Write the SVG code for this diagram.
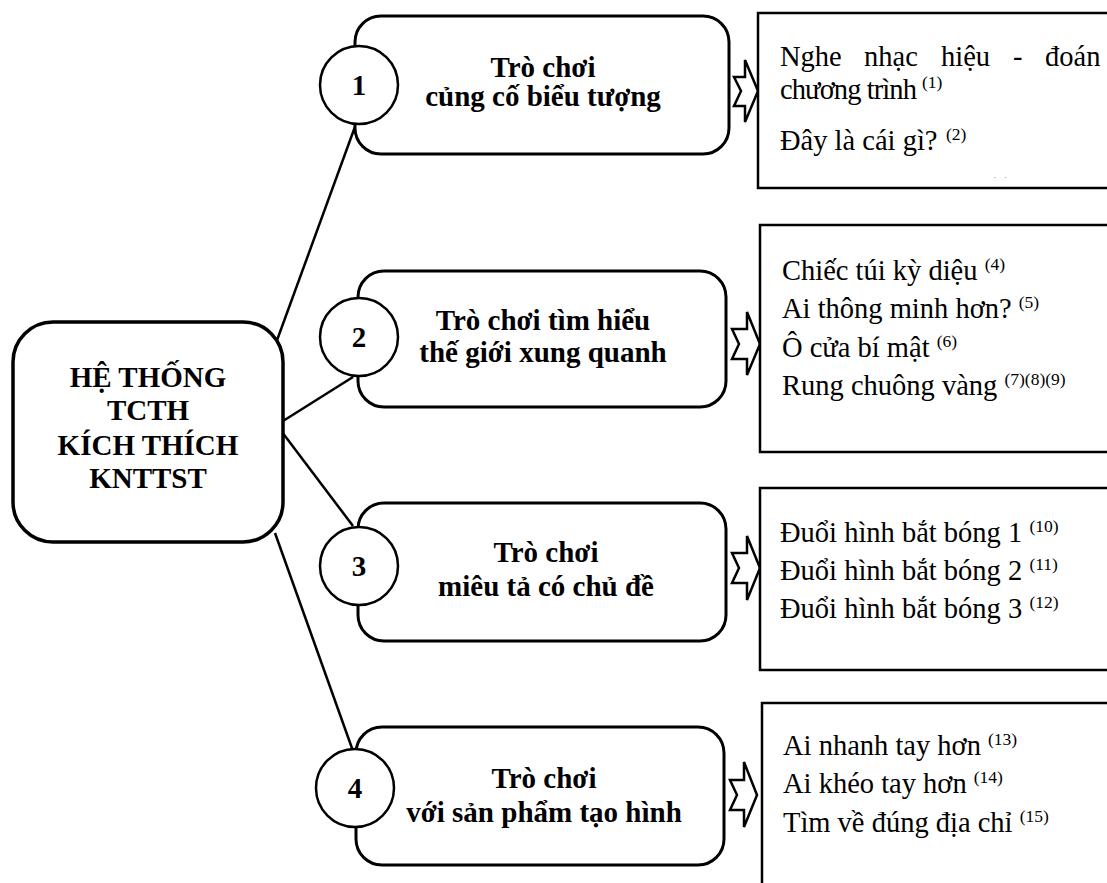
<svg xmlns="http://www.w3.org/2000/svg" width="1107" height="883" viewBox="0 0 1107 883">
<style>
  .rbox{fill:#fff;stroke:#000;stroke-width:3}
  .circ{fill:#fff;stroke:#000;stroke-width:2.5}
  .lbox{fill:#fff;stroke:#000;stroke-width:2.5}
  .arr{fill:#fff;stroke:#000;stroke-width:2.5;stroke-linejoin:miter}
  .conn{stroke:#000;stroke-width:2.5;fill:none}
  .t{font-family:"Liberation Serif","DejaVu Serif",serif;fill:#000}
  .b{font-weight:bold;font-size:29px;text-anchor:middle}
  .li{font-size:28.5px}
  .sup{font-size:17.5px}
</style>
<defs>
  <clipPath id="clip3"><rect x="960" y="170" width="80" height="8"/></clipPath>
</defs>
<rect width="1107" height="883" fill="#fff"/>

<g id="connectors">
  <line class="conn" x1="276" y1="343" x2="356" y2="124"/>
  <line class="conn" x1="283" y1="421" x2="353" y2="377"/>
  <line class="conn" x1="282" y1="432" x2="353" y2="526"/>
  <line class="conn" x1="275" y1="533" x2="353" y2="751"/>
</g>

<g id="center">
  <rect class="rbox" x="13" y="322" width="270" height="220" rx="40" ry="40" style="stroke-width:3.5"/>
  <text class="t b" x="148" y="387">HỆ THỐNG</text>
  <text class="t b" x="148" y="420">TCTH</text>
  <text class="t b" x="148" y="455">KÍCH THÍCH</text>
  <text class="t b" x="148" y="488">KNTTST</text>
</g>

<g id="node1">
  <rect class="rbox" x="355" y="16" width="374" height="138" rx="26" ry="26"/>
  <circle class="circ" cx="359" cy="85" r="39"/>
  <text class="t b" x="359" y="95">1</text>
  <text class="t b" x="543" y="77">Trò chơi</text>
  <text class="t b" x="543" y="106">củng cố biểu tượng</text>
</g>
<g id="node2">
  <rect class="rbox" x="358" y="271" width="368" height="136" rx="26" ry="26"/>
  <circle class="circ" cx="359" cy="337" r="39"/>
  <text class="t b" x="359" y="347">2</text>
  <text class="t b" x="543" y="330">Trò chơi tìm hiểu</text>
  <text class="t b" x="543" y="362">thế giới xung quanh</text>
</g>
<g id="node3">
  <rect class="rbox" x="358" y="503" width="368" height="138" rx="26" ry="26"/>
  <circle class="circ" cx="359" cy="566" r="39"/>
  <text class="t b" x="359" y="576">3</text>
  <text class="t b" x="546" y="562">Trò chơi</text>
  <text class="t b" x="546" y="596">miêu tả có chủ đề</text>
</g>
<g id="node4">
  <rect class="rbox" x="356" y="727" width="368" height="138" rx="26" ry="26"/>
  <circle class="circ" cx="355" cy="788" r="39"/>
  <text class="t b" x="355" y="798">4</text>
  <text class="t b" x="544" y="788">Trò chơi</text>
  <text class="t b" x="544" y="822">với sản phẩm tạo hình</text>
</g>

<g id="arrows">
  <polygon class="arr" points="734,77 745,77 745,60 758,91 745,122 745,106 734,106 741,91"/>
  <polygon class="arr" points="732,329 747,329 747,312 760,344 747,375 747,359 732,359 739,344"/>
  <polygon class="arr" points="732,553 747,553 747,536 760,568 747,600 747,583 732,583 739,568"/>
  <polygon class="arr" points="730,780 744,780 744,762 757,795 744,827 744,810 730,810 737,795"/>
</g>

<g id="list1">
  <rect class="lbox" x="758" y="13" width="360" height="175"/>
  <text class="t li" y="66"><tspan x="780">Nghe</tspan><tspan x="864">nhạc</tspan><tspan x="941">hiệu</tspan><tspan x="1013">-</tspan><tspan x="1045">đoán</tspan></text>
  <text class="t li" x="780" y="99"><tspan letter-spacing="-0.9">chương trình</tspan><tspan class="sup" x="922" dy="-11">(1)</tspan></text>
  <text class="t li" x="780" y="150">Đây là cái gì?<tspan class="sup" x="946" dy="-10">(2)</tspan></text>
  <text class="t sup" x="990" y="189" clip-path="url(#clip3)">(3)</text>
</g>

<g id="list2">
  <rect class="lbox" x="760" y="225" width="360" height="227"/>
  <text class="t li" x="782" y="280">Chiếc túi kỳ diệu <tspan class="sup" dy="-10">(4)</tspan></text>
  <text class="t li" x="782" y="318">Ai thông minh hơn? <tspan class="sup" dy="-10">(5)</tspan></text>
  <text class="t li" x="782" y="357">Ô cửa bí mật <tspan class="sup" dy="-10">(6)</tspan></text>
  <text class="t li" x="782" y="395">Rung chuông vàng <tspan class="sup" dy="-10">(7)(8)(9)</tspan></text>
</g>

<g id="list3">
  <rect class="lbox" x="760" y="488" width="360" height="182"/>
  <text class="t li" x="780" y="542">Đuổi hình bắt bóng 1 <tspan class="sup" dy="-10">(10)</tspan></text>
  <text class="t li" x="780" y="580">Đuổi hình bắt bóng 2 <tspan class="sup" dy="-10">(11)</tspan></text>
  <text class="t li" x="780" y="618">Đuổi hình bắt bóng 3 <tspan class="sup" dy="-10">(12)</tspan></text>
</g>

<g id="list4">
  <rect class="lbox" x="762" y="703" width="360" height="200"/>
  <text class="t li" x="783" y="755">Ai nhanh tay hơn <tspan class="sup" dy="-10">(13)</tspan></text>
  <text class="t li" x="783" y="793">Ai khéo tay hơn <tspan class="sup" dy="-10">(14)</tspan></text>
  <text class="t li" x="783" y="832">Tìm về đúng địa chỉ <tspan class="sup" dy="-10">(15)</tspan></text>
</g>
</svg>
